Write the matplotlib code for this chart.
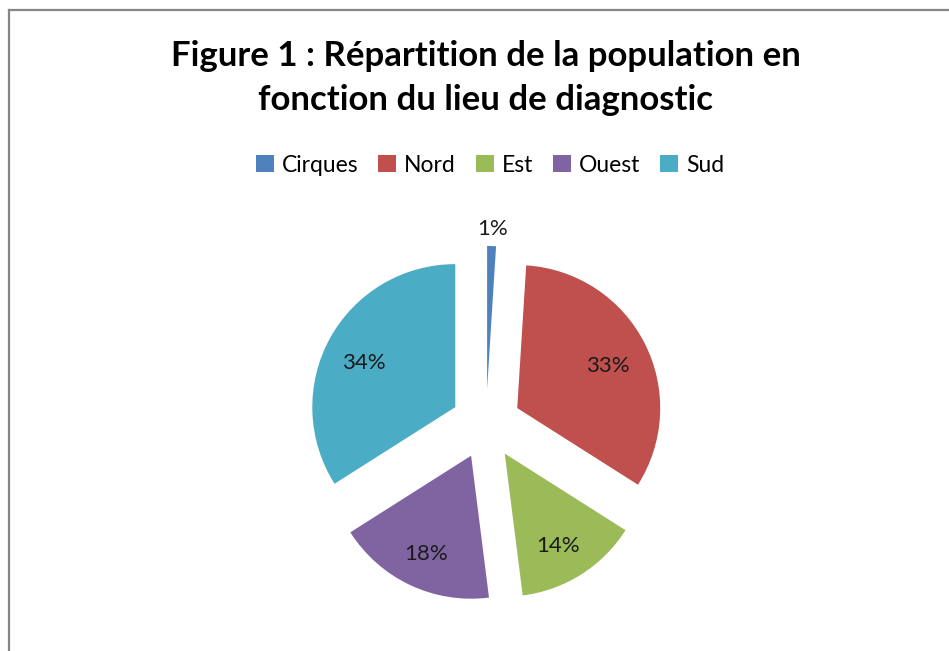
import numpy as np
import matplotlib.pyplot as plt
from matplotlib.patches import Patch
from matplotlib.lines import Line2D

# data
lieux = ['Cirques', 'Nord', 'Est', 'Ouest', 'Sud']
parts = [1, 33, 14, 18, 34]
couleurs = ['#4F81BD', '#C0504D', '#9BBB59', '#8064A2', '#4BACC6']

W, H = 949, 651
plt.rcParams['font.family'] = ['Lato', 'DejaVu Sans']

fig = plt.figure(figsize=(W / 100, H / 100), dpi=100)

# chart frame (only left and top edges visible)
fx = 8.5 / W
fy = 1 - 9.5 / H
fig.add_artist(Line2D([fx, fx], [0, fy], transform=fig.transFigure, color='#868686', lw=1.6))
fig.add_artist(Line2D([fx, 1], [fy, fy], transform=fig.transFigure, color='#868686', lw=1.6))

# pie axes: centre (486, 424) px, radius 143 px
cx, cy, r = 486, 424, 143
half = 1.5 * r
ax = fig.add_axes([(cx - half) / W, (H - cy - half) / H, 2 * half / W, 2 * half / H])

wedges, texts, autotexts = ax.pie(parts, colors=couleurs, startangle=90, counterclock=False,
                                  explode=[0.245] * len(parts), autopct='%1.0f%%',
                                  pctdistance=0.72, radius=1,
                                  textprops={'fontsize': 16, 'color': '#1a1a1a'},
                                  wedgeprops={'linewidth': 0})
ax.set_xlim(-1.5, 1.5)
ax.set_ylim(-1.5, 1.5)
ax.set_aspect('equal')
ax.axis('off')

# nudge labels slightly down, small slice label goes outside
for t in autotexts:
    x, y = t.get_position()
    t.set_position((x - 0.01, y - 0.035))
w0 = wedges[0]
ang = np.deg2rad((w0.theta1 + w0.theta2) / 2)
ox, oy = w0.center
autotexts[0].set_position((ox + 1.12 * np.cos(ang), oy + 1.12 * np.sin(ang)))

fig.text(cx / W, 1 - 78 / H, 'Figure 1 : Répartition de la population en\nfonction du lieu de diagnostic',
         ha='center', va='center', fontsize=25, fontweight='bold', linespacing=1.45)

handles = [Patch(facecolor=c, edgecolor='none') for c in couleurs]
fig.legend(handles, lieux, loc='center', bbox_to_anchor=(490 / W, 1 - 165 / H), ncol=5,
           frameon=False, fontsize=16.5, handlelength=0.8, handleheight=0.8,
           handletextpad=0.35, columnspacing=0.85)

fig.savefig('out.png', dpi=100)
